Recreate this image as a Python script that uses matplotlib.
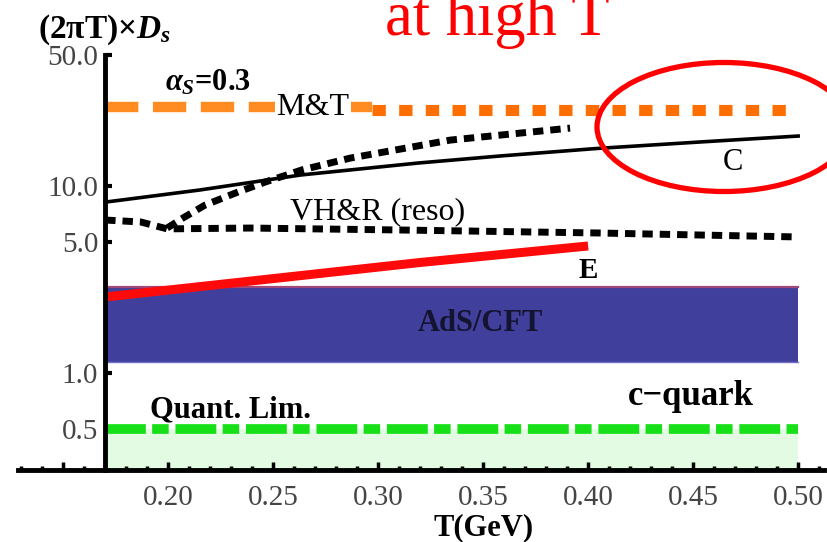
import numpy as np
import matplotlib
matplotlib.use("Agg")
import matplotlib.pyplot as plt
from matplotlib.patches import Ellipse
from matplotlib.ticker import FixedLocator, NullLocator

plt.rcParams['font.family'] = ['Liberation Serif', 'DejaVu Serif']
plt.rcParams['mathtext.fontset'] = 'custom'
plt.rcParams['mathtext.rm'] = 'Liberation Serif:bold'
plt.rcParams['mathtext.it'] = 'Liberation Serif:italic:bold'
plt.rcParams['mathtext.bf'] = 'Liberation Serif:bold'

# curve C (solid)
t_c = [0.17, 0.215, 0.239, 0.263, 0.319, 0.358, 0.404, 0.453, 0.50]
d_c = [8.2, 9.52, 10.44, 11.45, 13.27, 14.47, 15.87, 17.19, 18.5]

# upper dashed branch (rises from the cusp)
t_up = [0.1995, 0.207, 0.2176, 0.2333, 0.2462, 0.2638, 0.2867, 0.3343, 0.3914]
d_up = [5.96, 6.74, 7.91, 9.29, 10.5, 12.2, 14.1, 17.6, 20.4]

# VH&R (reso)
t_reso = [0.17, 0.187, 0.1995, 0.239, 0.31, 0.404, 0.50]
d_reso = [6.58, 6.42, 5.9, 5.96, 5.82, 5.61, 5.34]

# E (red)
t_e = [0.17, 0.32, 0.40]
d_e = [2.55, 3.9, 4.78]

# M&T, alpha_s = 0.3
t_mt_dash = [0.17, 0.297]
t_mt_dot = [0.297, 0.50]
d_mt_dash = 26.4
d_mt_dot = 25.5

# AdS/CFT band and quantum limit
t_band = [0.17, 0.50]
ads_lo, ads_hi = 1.15, 2.88
quant_lim = 0.5

y_ticks = [0.5, 1.0, 5.0, 10.0, 50.0]
y_tick_labels = ['0.5', '1.0', '5.0', '10.0', '50.0']
x_ticks = [0.15, 0.20, 0.25, 0.30, 0.35, 0.40, 0.45, 0.50]
x_tick_labels = ['', '0.20', '0.25', '0.30', '0.35', '0.40', '0.45', '0.50']

W, H = 827, 542
fig = plt.figure(figsize=(W / 100, H / 100), dpi=100)
ax = fig.add_axes([18 / W, 72 / H, 806.4 / W, 414.7 / H])
ax.set_yscale('log')
ax.set_xlim(0.1285, 0.5125)
y_min = 0.303
ax.set_ylim(y_min, 50)

# filled regions
ax.fill_between(t_band, y_min, quant_lim, color='#E3FAE3', lw=0, zorder=1)
ax.fill_between(t_band, ads_lo, ads_hi, color='#403F9B', lw=0, zorder=2)
ax.plot(t_band, [ads_hi] * 2, color='#A0487A', lw=1.6, zorder=2)
ax.plot(t_band, [ads_lo] * 2, color='#7070C4', lw=1.0, zorder=2)

# lines
ax.plot(t_band, [quant_lim] * 2, color='#18E018', lw=7, dashes=(4.2, 0.65, 1.7, 0.7),
        dash_capstyle='butt', zorder=3)
ax.plot(t_mt_dash, [d_mt_dash] * 2, color='#FF8C22', lw=7.5, dashes=(3.2, 1.4),
        dash_capstyle='butt', zorder=3)
ax.plot(t_mt_dot, [d_mt_dot] * 2, color='#FF6E00', lw=8, dashes=(1.2, 1.2),
        dash_capstyle='butt', zorder=3)
ax.plot(t_c, d_c, color='black', lw=2.6, zorder=4)
ax.plot(t_reso, d_reso, color='black', lw=5, dashes=(1.5, 1.0), dash_capstyle='butt', zorder=4)
ax.plot(t_up, d_up, color='black', lw=5, dashes=(1.5, 1.0), dash_capstyle='butt', zorder=4)
ax.plot(t_e, d_e, color='#FF0A0A', lw=6.5, solid_capstyle='butt', zorder=5)

# axes styling
for s in ['top', 'right']:
    ax.spines[s].set_visible(False)
ax.spines['left'].set_position(('data', 0.17))
ax.spines['left'].set_linewidth(3.5)
ax.spines['bottom'].set_linewidth(3.5)
ax.spines['left'].set_zorder(6)
ax.spines['bottom'].set_zorder(6)

ax.yaxis.set_major_locator(FixedLocator(y_ticks))
ax.yaxis.set_minor_locator(NullLocator())
ax.set_yticklabels(y_tick_labels)
ax.xaxis.set_major_locator(FixedLocator(x_ticks))
ax.xaxis.set_minor_locator(FixedLocator(np.arange(0.13, 0.515, 0.01)))
ax.set_xticklabels(x_tick_labels)
ax.tick_params(axis='y', which='major', direction='in', length=5, width=3,
               labelsize=21, pad=5, labelcolor='#454545')
ax.tick_params(axis='x', which='major', direction='in', length=6, width=2.5,
               labelsize=21, pad=11, labelcolor='#454545')
ax.tick_params(axis='x', which='minor', direction='in', length=3, width=2.5)

# annotations
ax.text(0.219, 35.5, r'$\alpha_S$=0.3', fontsize=22, fontweight='bold', ha='center', va='center')
ax.text(0.269, d_mt_dash, 'M&T', fontsize=23, ha='center', va='center', zorder=5,
        bbox=dict(facecolor='white', edgecolor='none', pad=1))
ax.text(0.2995, 7.26, 'VH&R (reso)', fontsize=23, ha='center', va='center')
ax.text(0.469, 13.4, 'C', fontsize=22, ha='center', va='center')
ax.text(0.400, 3.55, 'E', fontsize=21, fontweight='bold', ha='center', va='center')
ax.text(0.3486, 1.83, 'AdS/CFT', fontsize=22, fontweight='bold', ha='center', va='center',
        color='#141430', zorder=5)
ax.text(0.2295, 0.634, 'Quant. Lim.', fontsize=22, fontweight='bold', ha='center', va='center')
ax.text(0.449, 0.753, 'c\u2212quark', fontsize=25, fontweight='bold', ha='center', va='center')

fig.text(104 / W, 1 - 30 / H, r'(2πT)×$D_s$', fontsize=24, fontweight='bold',
         ha='center', va='center')
fig.text(484 / W, 1 - 528 / H, 'T(GeV)', fontsize=22, fontweight='bold',
         ha='center', va='center')
fig.text(385 / W, 1 - 35 / H, 'at high T', fontsize=45, color='red',
         ha='left', va='baseline')

fig.add_artist(Ellipse((724 / W, 1 - 127 / H), 254 / W, 129 / H, fill=False,
                       edgecolor='red', lw=3.8, transform=fig.transFigure, clip_on=False))

fig.savefig('out.png', dpi=100)
